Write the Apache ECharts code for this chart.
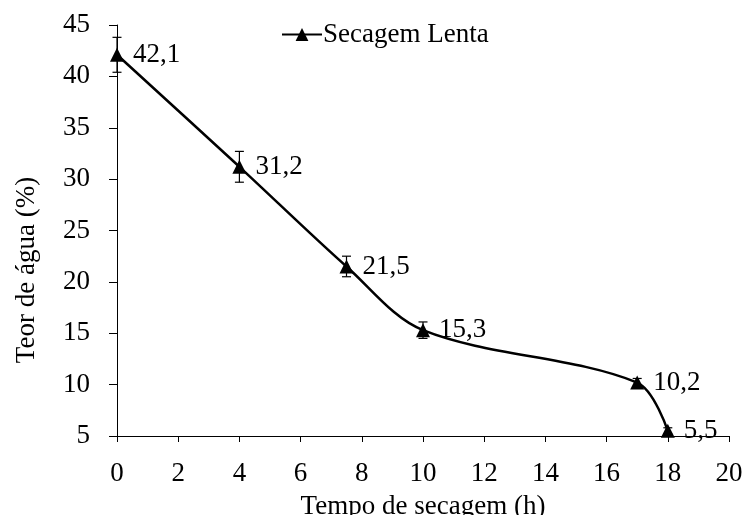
<!DOCTYPE html>
<html>
<head>
<meta charset="utf-8">
<script src="https://cdn.jsdelivr.net/npm/echarts@6/dist/echarts.min.js"></script>
<style>
  html, body { margin: 0; padding: 0; background: #fff; }
  #chart { width: 749px; height: 515px; }
</style>
</head>
<body>
<div id="chart"></div>
<script>
// Drying time (h) and water content (%) for slow drying
const tempo = [0, 4, 7.5, 10, 17, 18];
const teorAgua = [42.1, 31.2, 21.5, 15.3, 10.2, 5.5];
// Standard deviation for each measurement
const desvio = [1.7, 1.5, 1.0, 0.8, 0.4, 0.3];
const xTicks = [0, 2, 4, 6, 8, 10, 12, 14, 16, 18, 20];
const yTicks = [5, 10, 15, 20, 25, 30, 35, 40, 45];

const FONT = '"Liberation Serif", "Times New Roman", serif';
const FS = 27;

const lineData = tempo.map((t, i) => [t, teorAgua[i]]);
const errData = tempo.map((t, i) => [t, teorAgua[i] - desvio[i], teorAgua[i] + desvio[i]]);

const chart = echarts.init(document.getElementById('chart'), null, { renderer: 'canvas' });

chart.setOption({
  backgroundColor: '#ffffff',
  animation: false,
  textStyle: { fontFamily: FONT, color: '#000' },
  grid: { left: 117, right: 20, top: 25, bottom: 79, containLabel: false, outerBoundsMode: 'none' },
  legend: {
    data: ['Secagem Lenta'],
    left: 276,
    top: 16,
    itemWidth: 40,
    itemHeight: 16,
    itemGap: 0,
    textStyle: { fontFamily: FONT, fontSize: FS, color: '#000', padding: [0, 0, 0, -4] },
    selectedMode: false
  },
  xAxis: {
    type: 'value',
    min: xTicks[0],
    max: xTicks[xTicks.length - 1],
    interval: 2,
    axisLine: { show: true, onZero: false, lineStyle: { color: '#000', width: 1 } },
    axisTick: { show: true, inside: false, length: 6, lineStyle: { color: '#000' } },
    axisLabel: { fontFamily: FONT, fontSize: FS, color: '#000', margin: 24 },
    splitLine: { show: false },
    name: 'Tempo de secagem (h)',
    nameLocation: 'middle',
    nameGap: 57,
    nameTextStyle: { fontFamily: FONT, fontSize: FS, color: '#000' }
  },
  yAxis: {
    type: 'value',
    min: yTicks[0],
    max: yTicks[yTicks.length - 1],
    interval: 5,
    axisLine: { show: true, onZero: false, lineStyle: { color: '#000', width: 1 } },
    axisTick: { show: true, inside: false, length: 8, lineStyle: { color: '#000' } },
    axisLabel: { fontFamily: FONT, fontSize: FS, color: '#000', margin: 27 },
    splitLine: { show: false }
  },
  graphic: [{
    type: 'text',
    x: 27,
    y: 270,
    rotation: Math.PI / 2,
    style: {
      text: 'Teor de água (%)',
      font: FS + 'px ' + FONT,
      fill: '#000',
      align: 'center',
      verticalAlign: 'middle'
    }
  }],
  series: [
    {
      name: 'Secagem Lenta',
      type: 'line',
      data: lineData,
      smooth: 0.33,
      symbol: 'triangle',
      symbolSize: 14,
      showAllSymbol: true,
      lineStyle: { color: '#000', width: 2.5 },
      itemStyle: { color: '#000' },
      label: {
        show: true,
        position: 'right',
        distance: 9,
        fontFamily: FONT,
        fontSize: FS,
        color: '#000',
        formatter: p => String(p.value[1]).replace('.', ',')
      },
      z: 3
    },
    {
      name: 'desvio',
      type: 'custom',
      data: errData,
      z: 2,
      renderItem: function (params, api) {
        const x = api.value(0);
        const lo = api.coord([x, api.value(1)]);
        const hi = api.coord([x, api.value(2)]);
        const cap = 4.5;
        const style = { stroke: '#000', lineWidth: 1.2 };
        return {
          type: 'group',
          children: [
            { type: 'line', shape: { x1: lo[0], y1: lo[1], x2: hi[0], y2: hi[1] }, style: style },
            { type: 'line', shape: { x1: lo[0] - cap, y1: lo[1], x2: lo[0] + cap, y2: lo[1] }, style: style },
            { type: 'line', shape: { x1: hi[0] - cap, y1: hi[1], x2: hi[0] + cap, y2: hi[1] }, style: style }
          ]
        };
      }
    }
  ]
});
</script>
</body>
</html>
